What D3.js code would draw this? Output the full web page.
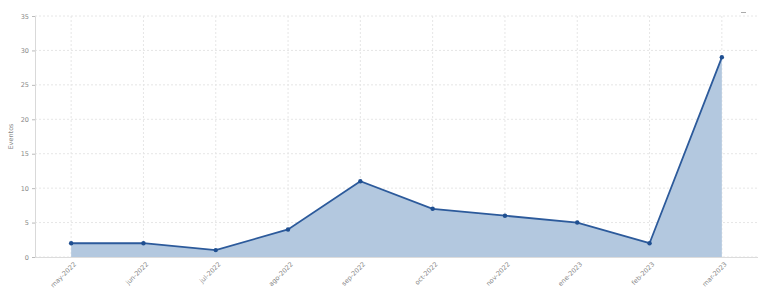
<!DOCTYPE html>
<html><head><meta charset="utf-8">
<script src="https://cdn.jsdelivr.net/npm/d3@7"></script>
<style>body{margin:0;background:#fff;} text{font-family:"DejaVu Sans",sans-serif;}</style>
</head><body>
<svg id="c" width="768" height="292"></svg>
<script>
const categories = ["may-2022","jun-2022","jul-2022","ago-2022","sep-2022","oct-2022","nov-2022","ene-2023","feb-2023","mar-2023"];
const values = [2,2,1,4,11,7,6,5,2,29];
const yTicks = [0,5,10,15,20,25,30,35];
const yLabel = "Eventos";

const svg = d3.select("#c");
const m = {l:35, r:10, t:16, b:35};
const W = 768, H = 292;
const x = d3.scalePoint().domain(categories).range([m.l, W - m.r]).padding(0.5);
const y = d3.scaleLinear().domain([0,35]).range([H - m.b, m.t]);

// grid
svg.append("g").selectAll("line.h").data(yTicks).join("line")
  .attr("x1", m.l).attr("x2", W - m.r).attr("y1", d=>y(d)).attr("y2", d=>y(d))
  .attr("stroke", "#e6e6e6").attr("stroke-dasharray", "2,2");
svg.append("g").selectAll("line.v").data(categories).join("line")
  .attr("x1", d=>x(d)).attr("x2", d=>x(d)).attr("y1", m.t).attr("y2", H - m.b)
  .attr("stroke", "#e6e6e6").attr("stroke-dasharray", "2,2");

// area + line
const area = d3.area().x((d,i)=>x(categories[i])).y0(y(0)).y1(d=>y(d));
svg.append("path").datum(values).attr("d", area).attr("fill", "#b3c8df");
const line = d3.line().x((d,i)=>x(categories[i])).y(d=>y(d));
svg.append("path").datum(values).attr("d", line).attr("fill","none")
  .attr("stroke", "#2c5a9b").attr("stroke-width", 1.8);
svg.append("g").selectAll("circle").data(values).join("circle")
  .attr("cx", (d,i)=>x(categories[i])).attr("cy", d=>y(d)).attr("r", 2.2)
  .attr("fill", "#1f4f91");

// y axis
const ya = svg.append("g").attr("transform", `translate(${m.l},0)`)
  .call(d3.axisLeft(y).tickValues(yTicks).tickSize(3).tickPadding(3));
ya.select(".domain").attr("stroke", "#d9d9d9");
ya.selectAll(".tick line").attr("stroke", "#bbb");
ya.selectAll("text").attr("fill", "#888").style("font-size", "6.5px");

// x axis
const xa = svg.append("g").attr("transform", `translate(0,${H - m.b})`)
  .call(d3.axisBottom(x).tickSize(0).tickPadding(5));
xa.select(".domain").attr("stroke", "#dcdcdc").attr("d", `M${m.l},0.5H${W - m.r}`);
xa.selectAll("text").attr("fill", "#888").style("font-size", "6.5px")
  .attr("text-anchor", "end").attr("transform", "rotate(-45)")
  .attr("dx", "-0.3em").attr("dy", "0.6em");

// y label
svg.append("text").attr("transform", `translate(13,${(m.t + H - m.b)/2}) rotate(-90)`)
  .attr("text-anchor", "middle").attr("fill", "#888").style("font-size", "6.5px").text(yLabel);

// small marker top right
svg.append("line").attr("x1", 741).attr("x2", 746).attr("y1", 12.5).attr("y2", 12.5)
  .attr("stroke", "#aaa").attr("stroke-width", 1);
</script>
</body></html>
